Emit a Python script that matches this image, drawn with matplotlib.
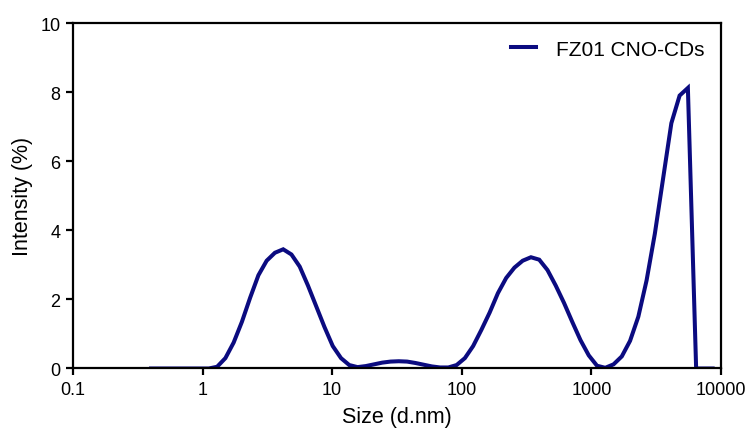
import matplotlib
matplotlib.use('Agg')
import matplotlib.pyplot as plt
from matplotlib.ticker import FixedLocator, FixedFormatter, NullLocator

plt.rcParams['font.family'] = ['Liberation Sans', 'DejaVu Sans']

# Zetasizer size bins (d.nm)
sizes = [0.4, 0.4632, 0.5365, 0.6213, 0.7195, 0.8332, 0.9649, 1.117, 1.294, 1.499,
         1.736, 2.01, 2.328, 2.696, 3.122, 3.615, 4.187, 4.849, 5.615, 6.503,
         7.531, 8.721, 10.1, 11.7, 13.54, 15.69, 18.17, 21.04, 24.36, 28.21,
         32.67, 37.84, 43.82, 50.75, 58.77, 68.06, 78.82, 91.28, 105.7, 122.4,
         141.8, 164.2, 190.1, 220.2, 255.0, 295.3, 342.0, 396.1, 458.7, 531.2,
         615.1, 712.4, 825.0, 955.4, 1106, 1281, 1484, 1718, 1990, 2305,
         2669, 3091, 3580, 4145, 4801, 5560, 6439, 7456, 8635]

# Intensity (%)
intensity = [0, 0, 0, 0, 0, 0, 0, 0.0, 0.05, 0.3,
             0.75, 1.35, 2.05, 2.7, 3.12, 3.35, 3.45, 3.3, 2.95, 2.4,
             1.8, 1.2, 0.65, 0.3, 0.1, 0.04, 0.07, 0.12, 0.17, 0.2,
             0.21, 0.2, 0.16, 0.11, 0.06, 0.03, 0.03, 0.1, 0.3, 0.65,
             1.12, 1.62, 2.18, 2.62, 2.92, 3.12, 3.22, 3.15, 2.85, 2.4,
             1.9, 1.35, 0.82, 0.38, 0.08, 0.02, 0.12, 0.35, 0.8, 1.5,
             2.55, 3.9, 5.5, 7.1, 7.9, 8.12, 0, 0, 0]

series_name = 'FZ01 CNO-CDs'
xticks = [0.1, 1, 10, 100, 1000, 10000]
xtick_labels = ['0.1', '1', '10', '100', '1000', '10000']
yticks = [0, 2, 4, 6, 8, 10]

fig = plt.figure(figsize=(7.49, 4.31), dpi=100)
ax = fig.add_axes([0.0975, 0.1427, 0.865, 0.8016])

ax.plot(sizes, intensity, color='#0b0b80', linewidth=2.9, label=series_name,
        solid_joinstyle='miter')

ax.set_xscale('log')
ax.set_xlim(0.1, 10000)
ax.set_ylim(0, 10)
ax.xaxis.set_major_locator(FixedLocator(xticks))
ax.xaxis.set_major_formatter(FixedFormatter(xtick_labels))
ax.xaxis.set_minor_locator(NullLocator())
ax.set_yticks(yticks)

for sp in ax.spines.values():
    sp.set_linewidth(1.6)
ax.tick_params(direction='out', length=5, width=1.6, labelsize=13, pad=4,
               top=False, right=False)

ax.set_xlabel('Size (d.nm)', fontsize=15.5, labelpad=6)
ax.set_ylabel('Intensity (%)', fontsize=15.5, labelpad=5)

ax.legend(loc='upper right', frameon=False, fontsize=15, handlelength=1.2,
          handletextpad=0.95, borderaxespad=0.4)

fig.savefig('out.png', dpi=100)
